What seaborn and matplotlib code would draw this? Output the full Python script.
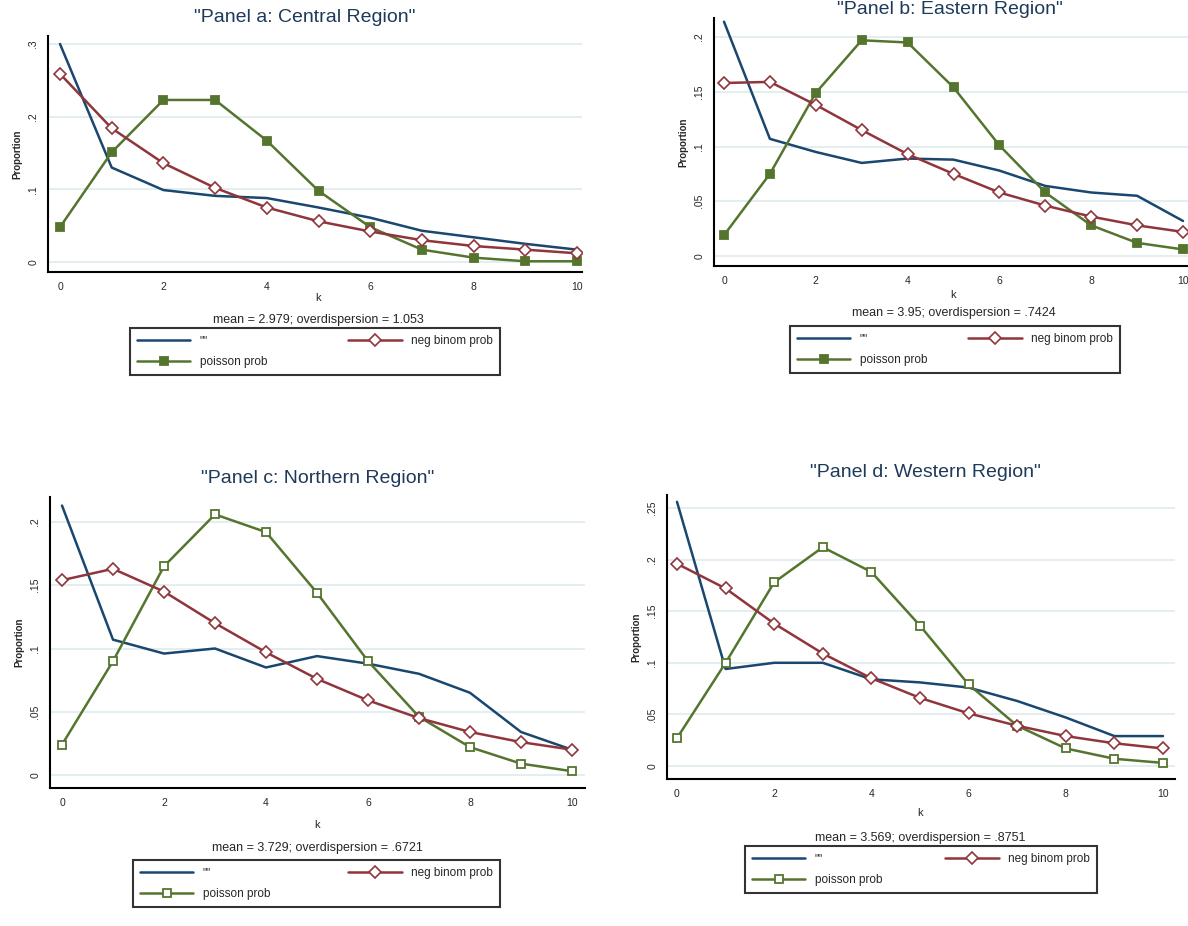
import matplotlib
matplotlib.use("Agg")
import matplotlib.pyplot as plt
import seaborn as sns
import pandas as pd

sns.set_style("white")
plt.rcParams["font.family"] = ["Liberation Sans", "DejaVu Sans"]

# values
k = list(range(11))

central_obs = [0.300, 0.130, 0.099, 0.091, 0.088, 0.075, 0.061, 0.043, 0.034, 0.025, 0.017]
central_nb = [0.259, 0.184, 0.136, 0.102, 0.075, 0.056, 0.042, 0.030, 0.022, 0.017, 0.012]
central_pois = [0.048, 0.151, 0.223, 0.223, 0.167, 0.098, 0.048, 0.017, 0.006, 0.001, 0.001]

eastern_obs = [0.214, 0.107, 0.095, 0.085, 0.089, 0.088, 0.078, 0.064, 0.058, 0.055, 0.032]
eastern_nb = [0.158, 0.159, 0.138, 0.115, 0.093, 0.075, 0.058, 0.046, 0.036, 0.028, 0.022]
eastern_pois = [0.019, 0.075, 0.149, 0.197, 0.195, 0.154, 0.101, 0.058, 0.028, 0.012, 0.006]

northern_obs = [0.213, 0.107, 0.096, 0.100, 0.085, 0.094, 0.088, 0.080, 0.065, 0.034, 0.020]
northern_nb = [0.154, 0.163, 0.145, 0.120, 0.097, 0.076, 0.059, 0.045, 0.034, 0.026, 0.020]
northern_pois = [0.024, 0.090, 0.165, 0.206, 0.192, 0.144, 0.090, 0.046, 0.022, 0.009, 0.003]

western_obs = [0.256, 0.094, 0.100, 0.100, 0.084, 0.081, 0.076, 0.063, 0.047, 0.029, 0.029]
western_nb = [0.196, 0.172, 0.138, 0.109, 0.085, 0.066, 0.051, 0.039, 0.029, 0.022, 0.017]
western_pois = [0.027, 0.100, 0.178, 0.212, 0.188, 0.136, 0.079, 0.039, 0.017, 0.007, 0.003]

titles = ['"Panel a: Central Region"', '"Panel b: Eastern Region"',
          '"Panel c: Northern Region"', '"Panel d: Western Region"']
notes = ["mean = 2.979; overdispersion = 1.053", "mean = 3.95; overdispersion = .7424",
         "mean = 3.729; overdispersion = .6721", "mean = 3.569; overdispersion = .8751"]
yticks = [[0, 0.1, 0.2, 0.3], [0, 0.05, 0.1, 0.15, 0.2],
          [0, 0.05, 0.1, 0.15, 0.2], [0, 0.05, 0.1, 0.15, 0.2, 0.25]]
ytick_labels = [["0", ".1", ".2", ".3"], ["0", ".05", ".1", ".15", ".2"],
                ["0", ".05", ".1", ".15", ".2"], ["0", ".05", ".1", ".15", ".2", ".25"]]
xticks = [0, 2, 4, 6, 8, 10]
series_labels = ['""', "poisson prob", "neg binom prob"]

panels = [
    (central_obs, central_pois, central_nb),
    (eastern_obs, eastern_pois, eastern_nb),
    (northern_obs, northern_pois, northern_nb),
    (western_obs, western_pois, western_nb),
]

W, H = 1188, 926
NAVY, MAROON, GREEN = "#1a476f", "#90353b", "#55752f"
GRID = "#e3eef0"

# layout in pixels: spine box (L, R, T, B), k=0 px, k=10 px, y=0 px, top tick px
layout = [
    dict(box=(48, 582, 36, 272), k0=60, k10=577, y0=262, yt=44,
         title=(305, 18), xlab=298, note=320, leg=(130, 337, 370), pois_fill=True),
    dict(box=(714, 1196, 18, 266), k0=724, k10=1183, y0=256, yt=37,
         title=(950, 9), xlab=295, note=313, leg=(790, 335, 330), pois_fill=True),
    dict(box=(50, 585, 497, 788), k0=62, k10=572, y0=775, yt=522,
         title=(318, 478), xlab=825, note=848, leg=(133, 869, 367), pois_fill=False),
    dict(box=(667, 1175, 495, 779), k0=677, k10=1163, y0=766, yt=508,
         title=(925, 473), xlab=813, note=838, leg=(745, 855, 352), pois_fill=False),
]

fig = plt.figure(figsize=(W / 100, H / 100), dpi=100)

for i, (obs, pois, nb) in enumerate(panels):
    lay = layout[i]
    L, R, T, B = lay["box"]
    ax = fig.add_axes([L / W, 1 - B / H, (R - L) / W, (B - T) / H])

    ux = (lay["k10"] - lay["k0"]) / 10
    ax.set_xlim((L - lay["k0"]) / ux, 10 + (R - lay["k10"]) / ux)
    ytop = yticks[i][-1]
    uy = (lay["y0"] - lay["yt"]) / ytop
    ax.set_ylim(-(B - lay["y0"]) / uy, ytop + (lay["yt"] - T) / uy)

    df = pd.DataFrame({"k": k, "obs": obs, "pois": pois, "nb": nb})
    sns.lineplot(data=df, x="k", y="obs", ax=ax, color=NAVY, lw=1.8,
                 label=series_labels[0], legend=False)
    sns.lineplot(data=df, x="k", y="pois", ax=ax, color=GREEN, lw=1.8,
                 marker="s", markersize=6, markeredgecolor=GREEN, markeredgewidth=1.3,
                 markerfacecolor=GREEN if lay["pois_fill"] else "white",
                 label=series_labels[1], legend=False)
    sns.lineplot(data=df, x="k", y="nb", ax=ax, color=MAROON, lw=1.8,
                 marker="D", markersize=6, markeredgecolor=MAROON, markeredgewidth=1.2,
                 markerfacecolor="white", label=series_labels[2], legend=False)
    handles = ax.get_lines()[:3]

    ax.set_yticks(yticks[i])
    ax.set_yticklabels(ytick_labels[i], rotation=90, va="center", fontsize=7.5)
    ax.set_xticks(xticks)
    ax.set_xticklabels([str(x) for x in xticks], fontsize=7.5)
    for y in yticks[i]:
        ax.axhline(y, color=GRID, lw=1.4, zorder=0)
    ax.tick_params(direction="out", length=4, width=1.2, color="black", pad=3)
    sns.despine(ax=ax)
    for s in ["left", "bottom"]:
        ax.spines[s].set_linewidth(1.5)
        ax.spines[s].set_color("black")
    ax.set_xlabel("")
    ax.set_ylabel("Proportion", fontsize=7, fontweight="bold", labelpad=4)

    tx, ty = lay["title"]
    fig.text(tx / W, 1 - ty / H, titles[i], ha="center", va="center",
             fontsize=14, color="#1e3a5a")
    cx = (lay["k0"] + lay["k10"]) / 2
    fig.text(cx / W, 1 - lay["xlab"] / H, "k", ha="center", va="center", fontsize=8)
    fig.text(cx / W, 1 - lay["note"] / H, notes[i], ha="center", va="center", fontsize=9)

    lx, ly, lw = lay["leg"]
    leg = fig.legend(handles, series_labels, ncol=2, mode="expand",
                     loc="upper left", bbox_to_anchor=(lx / W, 1 - ly / H, lw / W, 0.01),
                     fontsize=8.5, frameon=True, fancybox=False, handlelength=4.5,
                     numpoints=1, borderpad=0.6, labelspacing=0.8, columnspacing=2.0,
                     borderaxespad=0)
    leg.get_frame().set_edgecolor("black")
    leg.get_frame().set_linewidth(1.5)

fig.savefig("out.png", dpi=100)
